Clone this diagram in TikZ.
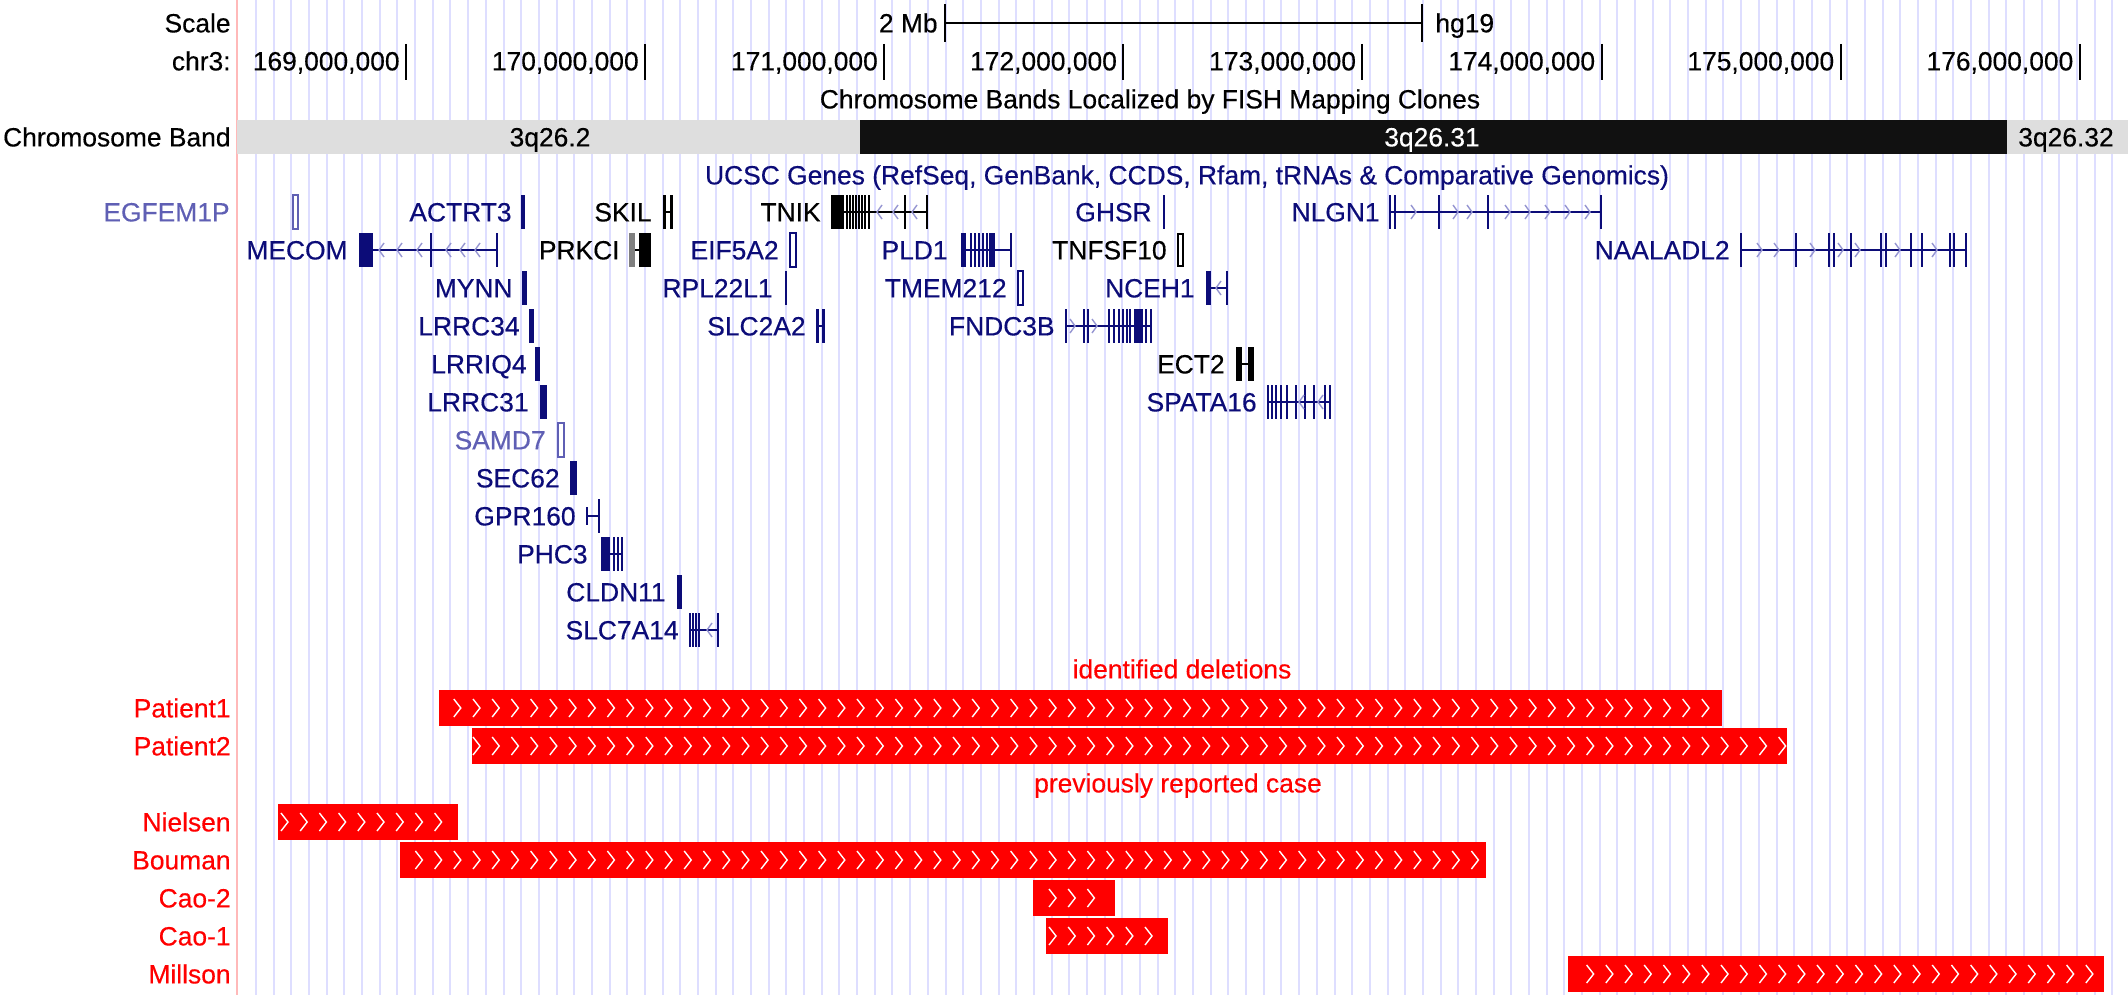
\documentclass[tikz,border=0pt]{standalone}
\usepackage{fontspec}
\setmainfont{Liberation Sans}[FakeBold=0.35]
\definecolor{genedark}{RGB}{12,12,120}
\definecolor{genelight}{RGB}{95,95,180}
\definecolor{strandgray}{RGB}{150,150,210}
\definecolor{guide}{RGB}{222,222,255}
\definecolor{edgepink}{RGB}{255,185,185}
\definecolor{bandgray}{RGB}{222,222,222}
\definecolor{bandblack}{RGB}{17,17,17}
\definecolor{delred}{RGB}{255,0,0}
\tikzset{every picture/.style = {x=0.5pt, y=-0.5pt, font=\fontsize{13.2}{15}\selectfont}}
\tikzset{txt/.style = {inner sep=0, yshift=-4.7pt}}
\tikzset{rlabel/.style = {txt, anchor=base east}}
\tikzset{llabel/.style = {txt, anchor=base west}}
\tikzset{clabel/.style = {txt, anchor=base}}
\tikzset{glabel/.style = {rlabel, text=genedark}}
\tikzset{dlabel/.style = {text=delred}}
\tikzset{intron/.style = {line width=1pt}}
\tikzset{strand/.style = {strandgray, line width=0.7pt}}
\tikzset{chev/.style = {white, line width=0.7pt}}
\tikzset{scaletick/.style = {line width=1pt}}
\newcommand{\exonbox}[3]{\fill (#1,#3-17) rectangle (#2,#3+17);}
\newcommand{\intronline}[3]{\draw[intron] (#1,#3) -- (#2,#3);}
\newcommand{\exonticks}[2]{\foreach \p in {#1} \fill (\p-1,#2-17) rectangle (\p+1,#2+17);}
\newcommand{\revmarks}[2]{\foreach \p in {#1} \draw[strand] (\p+5,#2-7) -- (\p,#2) -- (\p+5,#2+7);}
\newcommand{\fwdmarks}[2]{\foreach \p in {#1} \draw[strand] (\p-5,#2-7) -- (\p,#2) -- (\p-5,#2+7);}
\newcommand{\delbar}[5]{\fill[delred] (#1,#3-18) rectangle (#2,#3+18);
  \foreach \k in {#4,...,#5} \draw[chev] (281+19.2*\k,#3-9) -- (288+19.2*\k,#3) -- (281+19.2*\k,#3+9);}

\begin{document}
\begin{tikzpicture}
  \useasboundingbox[fill=white] (0,0) rectangle (2128,995);
  \foreach \j in {0,...,105} \draw[guide, line width=1pt] (256+17.68*\j,0) -- (256+17.68*\j,995);
  \draw[edgepink, line width=1.2pt] (237,0) -- (237,995);

  \node[rlabel] (scale) at (231,23) {Scale};
  \node[rlabel] (chrom) at (231,61) {chr3:};
  \node[rlabel] (bandlabel) at (231,137) {Chromosome Band};
  \node[rlabel] (mb) at (938,23) {2 Mb};
  \node[llabel] (hg) at (1435,23) {hg19};
  \coordinate (sbl) at (945,23);
  \coordinate (sbr) at (1422,23);
  \draw[scaletick] (sbl) -- (sbr);
  \draw[scaletick] ([yshift=9.5pt]sbl) -- ([yshift=-9.5pt]sbl);
  \draw[scaletick] ([yshift=9.5pt]sbr) -- ([yshift=-9.5pt]sbr);
  \foreach \m [count=\i from 0] in {169,...,176} {
    \draw[scaletick] (406+239.1*\i,44) -- (406+239.1*\i,80);
    \node[rlabel] (pos\m) at (400+239.1*\i,61) {\m,000,000};
  }

  \node[clabel] (fish) at (1150,99) {Chromosome Bands Localized by FISH Mapping Clones};
  \fill[bandgray] (237,120) rectangle (860,154);
  \fill[bandblack] (860,120) rectangle (2007,154);
  \fill[bandgray] (2007,120) rectangle (2128,154);
  \node[clabel] (b262) at (550,137) {3q26.2};
  \node[clabel, text=white] (b2631) at (1432,137) {3q26.31};
  \node[clabel] (b2632) at (2066,137) {3q26.32};

  \node[clabel, text=genedark] (ucsc) at (1187,175) {UCSC Genes (RefSeq, GenBank, CCDS, Rfam, tRNAs \& Comparative Genomics)};

  \node[glabel, text=genelight] (egfem1p) at (230,212) {EGFEM1P};
  \draw[genelight, line width=0.7pt] (293,195) rectangle (298,229);
  \node[glabel, text=genelight] (samd7) at (546,440) {SAMD7};
  \draw[genelight, line width=0.7pt] (558,423) rectangle (564,457);

  \begin{scope}[black]
    \node[rlabel] (skil) at (652,212) {SKIL};
    \exonbox{663}{666}{212} \exonbox{670}{673}{212} \intronline{666}{670}{212}
    \node[rlabel] (tnik) at (821,212) {TNIK};
    \exonbox{831}{844}{212}
    \exonticks{847,850,853,856,859,862,865,869}{212}
    \intronline{844}{927}{212}
    \exonticks{905,927}{212}
    \revmarks{877,893,912}{212}
    \node[rlabel] (prkci) at (620,250) {PRKCI};
    \fill[gray] (629,233) rectangle (635,267);
    \exonbox{639}{651}{250}
    \intronline{635}{639}{250}
    \node[rlabel] (tnfsf10) at (1167,250) {TNFSF10};
    \draw[line width=0.8pt] (1178,234) rectangle (1183,266);
    \node[rlabel] (ect2) at (1225,364) {ECT2};
    \exonbox{1236}{1242}{364} \exonbox{1248}{1254}{364} \intronline{1242}{1248}{364}
  \end{scope}

  \begin{scope}[genedark]
    \node[glabel] (actrt3) at (512,212) {ACTRT3};
    \exonbox{521}{525}{212}
    \node[glabel] (ghsr) at (1152,212) {GHSR};
    \exonticks{1164}{212}
    \node[glabel] (nlgn1) at (1380,212) {NLGN1};
    \intronline{1390}{1601}{212}
    \exonticks{1390,1395,1439,1488,1601}{212}
    \fwdmarks{1416,1458,1472,1510,1530,1550,1570,1590}{212}

    \node[glabel] (mecom) at (348,250) {MECOM};
    \exonbox{359}{373}{250}
    \intronline{373}{497}{250}
    \exonticks{431,497}{250}
    \revmarks{379,397,417,446,460,475}{250}
    \node[glabel] (eif5a2) at (779,250) {EIF5A2};
    \draw[line width=0.7pt] (790,233) rectangle (796,267);
    \node[glabel] (pld1) at (948,250) {PLD1};
    \exonbox{961}{966}{250}
    \exonticks{971,975,979,983,987}{250}
    \exonbox{989}{995}{250}
    \intronline{961}{1011}{250}
    \exonticks{1011}{250}
    \node[glabel] (naaladl2) at (1730,250) {NAALADL2};
    \intronline{1741}{1966}{250}
    \exonticks{1741,1796,1829,1834,1851,1881,1886,1911,1922,1950,1954,1966}{250}
    \fwdmarks{1762,1779,1815,1843,1860,1900,1937}{250}

    \node[glabel] (mynn) at (513,288) {MYNN};
    \exonbox{522}{527}{288}
    \node[glabel] (rpl22l1) at (773,288) {RPL22L1};
    \exonticks{786}{288}
    \node[glabel] (tmem212) at (1007,288) {TMEM212};
    \draw[line width=0.7pt] (1018,271) rectangle (1023,305);
    \node[glabel] (nceh1) at (1195,288) {NCEH1};
    \exonbox{1206}{1211}{288}
    \intronline{1211}{1227}{288}
    \exonticks{1227}{288}
    \revmarks{1216}{288}

    \node[glabel] (lrrc34) at (520,326) {LRRC34};
    \exonbox{529}{534}{326}
    \node[glabel] (slc2a2) at (806,326) {SLC2A2};
    \exonbox{816}{819}{326} \exonbox{822}{825}{326} \intronline{819}{822}{326}
    \node[glabel] (fndc3b) at (1055,326) {FNDC3B};
    \intronline{1066}{1152}{326}
    \exonticks{1066,1084,1088,1109,1114,1119,1123,1127,1130,1146,1151}{326}
    \exonbox{1134}{1143}{326}
    \fwdmarks{1075,1097}{326}

    \node[glabel] (lrriq4) at (527,364) {LRRIQ4};
    \exonbox{535}{540}{364}
    \node[glabel] (lrrc31) at (529,402) {LRRC31};
    \exonbox{540}{547}{402}
    \node[glabel] (spata16) at (1257,402) {SPATA16};
    \intronline{1268}{1330}{402}
    \exonticks{1268,1272,1276,1281,1287,1296,1305,1314,1325,1330}{402}
    \revmarks{1299,1318}{402}

    \node[glabel] (sec62) at (560,478) {SEC62};
    \exonbox{570}{577}{478}
    \node[glabel] (gpr160) at (576,516) {GPR160};
    \fill (586,507) rectangle (588,525);
    \intronline{587}{599}{516}
    \exonticks{599}{516}
    \node[glabel] (phc3) at (588,554) {PHC3};
    \exonbox{601}{610}{554}
    \exonticks{614,618,622}{554}
    \intronline{610}{622}{554}
    \node[glabel] (cldn11) at (666,592) {CLDN11};
    \exonbox{677}{682}{592}
    \node[glabel] (slc7a14) at (679,630) {SLC7A14};
    \exonticks{690,693,696,699}{630}
    \intronline{689}{718}{630}
    \exonticks{718}{630}
    \revmarks{707}{630}
  \end{scope}

  \node[clabel, dlabel] (identified) at (1182,669) {identified deletions};
  \node[clabel, dlabel] (previous) at (1178,783) {previously reported case};
  \foreach \who/\yy in {Patient1/708, Patient2/746, Nielsen/822, Bouman/860, Cao-2/898, Cao-1/936, Millson/974}
    \node[rlabel, dlabel] (lbl-\who) at (231,\yy) {\who};
  \delbar{439}{1722}{708}{9}{74}
  \delbar{472}{1787}{746}{10}{78}
  \delbar{278}{458}{822}{0}{8}
  \delbar{400}{1486}{860}{7}{62}
  \delbar{1033}{1115}{898}{40}{42}
  \delbar{1046}{1168}{936}{40}{45}
  \delbar{1568}{2104}{974}{68}{94}
\end{tikzpicture}
\end{document}
